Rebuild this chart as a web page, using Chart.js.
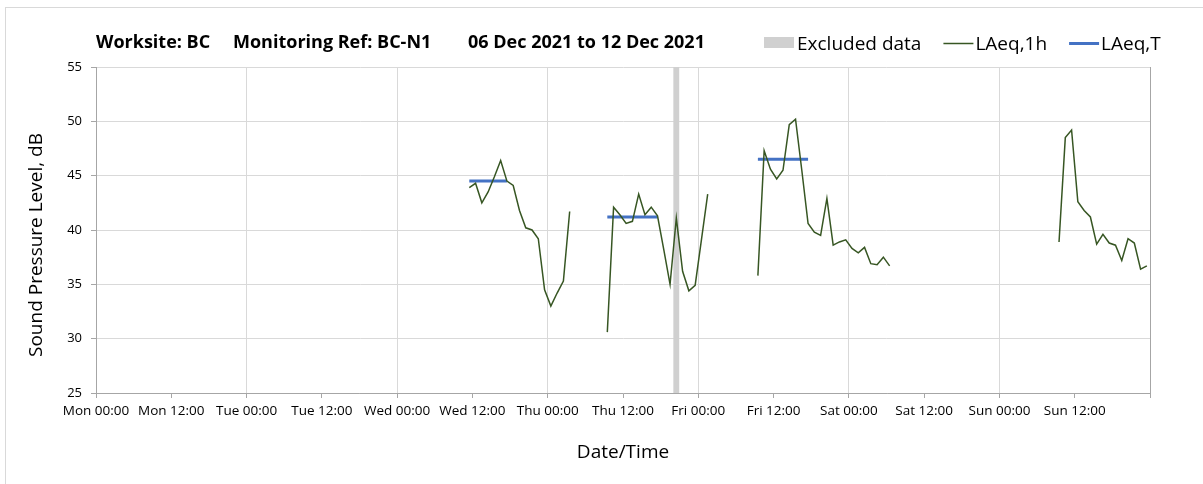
<!DOCTYPE html>
<html>
<head>
<meta charset="utf-8">
<script src="https://cdn.jsdelivr.net/npm/chart.js@4/dist/chart.umd.min.js"></script>
<style>
  body { margin: 0; background: #fff; }
  #wrap { position: relative; width: 1203px; height: 484px; }
</style>
</head>
<body>
<div id="wrap"><canvas id="noiseChart" width="1203" height="484"></canvas></div>
<script>
// x axis is hours from Mon 00:00, one tick every 12 hours
const tickLabels = ['Mon 00:00', 'Mon 12:00', 'Tue 00:00', 'Tue 12:00', 'Wed 00:00', 'Wed 12:00',
    'Thu 00:00', 'Thu 12:00', 'Fri 00:00', 'Fri 12:00', 'Sat 00:00', 'Sat 12:00', 'Sun 00:00', 'Sun 12:00'];
const titleParts = ['Worksite: BC', 'Monitoring Ref: BC-N1', '06 Dec 2021 to 12 Dec 2021'];

// hourly LAeq,1h values, each block starts at the given hour (mid-hour)
const wedStart = 59.5;
const wedLevels = [43.9, 44.3, 42.5, 43.5, 44.9, 46.4, 44.5, 44.1, 41.8, 40.2, 40.0, 39.2, 34.5, 33.0, 34.2, 35.3, 41.7];
const thuStart = 81.5;
const thuLevels = [30.6, 42.1, 41.4, 40.6, 40.8, 43.3, 41.4, 42.1, 41.3, 38.2, 35.0, 41.1, 36.2, 34.4, 34.9, 39.1, 43.3];
const friStart = 105.5;
const friLevels = [35.8, 47.3, 45.6, 44.7, 45.5, 49.7, 50.2, 45.5, 40.6, 39.8, 39.5, 42.9, 38.6, 38.9, 39.1, 38.3,
    37.9, 38.4, 36.9, 36.8, 37.5, 36.7];
const sunStart = 153.5;
const sunLevels = [38.9, 48.5, 49.2, 42.6, 41.8, 41.2, 38.7, 39.6, 38.8, 38.6, 37.2, 39.2, 38.8, 36.4, 36.7];

// LAeq,T periods
const periodStarts = [59.5, 81.5, 105.5];
const periodEnds = [65.5, 89.5, 113.5];
const periodLevels = [44.5, 41.2, 46.5];

// excluded data window (hours)
const excludedFrom = 92;
const excludedTo = 93;

const FONT = '"Open Sans", "DejaVu Sans", sans-serif';

function blockPoints(start, levels) {
    const pts = levels.map((v, i) => ({ x: start + i, y: v }));
    pts.push({ x: start + levels.length, y: null }); // break the line
    return pts;
}

const hourlyPoints = [].concat(
    blockPoints(wedStart, wedLevels),
    blockPoints(thuStart, thuLevels),
    blockPoints(friStart, friLevels),
    blockPoints(sunStart, sunLevels)
);

const periodPoints = [];
periodStarts.forEach((s, i) => {
    periodPoints.push({ x: s, y: periodLevels[i] });
    periodPoints.push({ x: periodEnds[i], y: periodLevels[i] });
    periodPoints.push({ x: periodEnds[i] + 0.5, y: null });
});

// title, legend, y title and outer frame
const decorPlugin = {
    id: 'decor',
    beforeDraw(chart) {
        const ctx = chart.ctx;
        ctx.save();
        ctx.fillStyle = '#fff';
        ctx.fillRect(0, 0, chart.width, chart.height);
        ctx.strokeStyle = '#d9d9d9';
        ctx.lineWidth = 1;
        ctx.strokeRect(5.5, 7.5, 1400, 600);
        ctx.restore();
    },
    afterDraw(chart) {
        const ctx = chart.ctx;
        ctx.save();
        ctx.fillStyle = '#000';
        ctx.textBaseline = 'alphabetic';

        // title
        ctx.font = 'bold 18px ' + FONT;
        const titleX = [96, 233, 468];
        titleParts.forEach((t, i) => ctx.fillText(t, titleX[i], 48));

        // legend
        ctx.font = '19px ' + FONT;
        let x = 764;
        chart.data.datasets.forEach(ds => {
            if (ds.fill) {
                ctx.fillStyle = ds.backgroundColor;
                ctx.fillRect(x, 37, 30, 11);
                x += 33;
            } else {
                ctx.strokeStyle = ds.borderColor;
                ctx.lineWidth = ds.borderWidth;
                ctx.beginPath();
                ctx.moveTo(x, 43.5);
                ctx.lineTo(x + 30, 43.5);
                ctx.stroke();
                x += 32;
            }
            ctx.fillStyle = '#000';
            ctx.fillText(ds.label, x, 49.5);
            x += ctx.measureText(ds.label).width + 22;
        });

        // y axis title
        ctx.font = '19px ' + FONT;
        ctx.translate(37, 245);
        ctx.rotate(-Math.PI / 2);
        ctx.textAlign = 'center';
        ctx.textBaseline = 'middle';
        ctx.fillText('Sound Pressure Level, dB', 0, 0);
        ctx.restore();
    }
};

const ctx = document.getElementById('noiseChart').getContext('2d');
new Chart(ctx, {
    type: 'line',
    data: {
        datasets: [{
            label: 'Excluded data',
            data: [{ x: excludedFrom, y: 55 }, { x: excludedTo, y: 55 }],
            backgroundColor: '#d0d0d0',
            borderWidth: 0,
            pointRadius: 0,
            fill: 'start',
            order: 3
        }, {
            label: 'LAeq,1h',
            data: hourlyPoints,
            borderColor: '#375623',
            borderWidth: 1.5,
            pointRadius: 0,
            tension: 0,
            spanGaps: false,
            fill: false,
            order: 1
        }, {
            label: 'LAeq,T',
            data: periodPoints,
            borderColor: '#4472c4',
            borderWidth: 3,
            pointRadius: 0,
            spanGaps: false,
            fill: false,
            order: 2
        }]
    },
    options: {
        responsive: false,
        animation: false,
        layout: { padding: { top: 67, right: 53, left: 0, bottom: 0 } },
        plugins: {
            legend: { display: false },
            title: { display: false },
            tooltip: { enabled: false }
        },
        scales: {
            x: {
                type: 'linear',
                min: 0,
                max: 168,
                afterFit: s => { s.height = 91; },
                ticks: {
                    stepSize: 12,
                    autoSkip: false,
                    maxRotation: 0,
                    padding: 5,
                    color: '#000',
                    font: { family: FONT, size: 13.5 },
                    callback: v => tickLabels[v / 12] || ''
                },
                grid: {
                    color: c => c.tick.value === 168 ? '#a6a6a6' : (c.tick.value % 24 === 0 ? '#d9d9d9' : 'rgba(0,0,0,0)'),
                    tickColor: '#a6a6a6',
                    tickLength: 5
                },
                border: { color: '#a6a6a6' },
                title: {
                    display: true,
                    text: 'Date/Time',
                    color: '#000',
                    font: { family: FONT, size: 19 },
                    padding: { top: 0, bottom: 20 }
                }
            },
            y: {
                min: 25,
                max: 55,
                afterFit: s => { s.width = 96; },
                ticks: {
                    stepSize: 5,
                    padding: 9,
                    color: '#000',
                    font: { family: FONT, size: 13 }
                },
                grid: {
                    color: '#d9d9d9',
                    tickColor: '#a6a6a6',
                    tickLength: 5
                },
                border: { color: '#a6a6a6' }
            }
        }
    },
    plugins: [decorPlugin]
});
</script>
</body>
</html>
